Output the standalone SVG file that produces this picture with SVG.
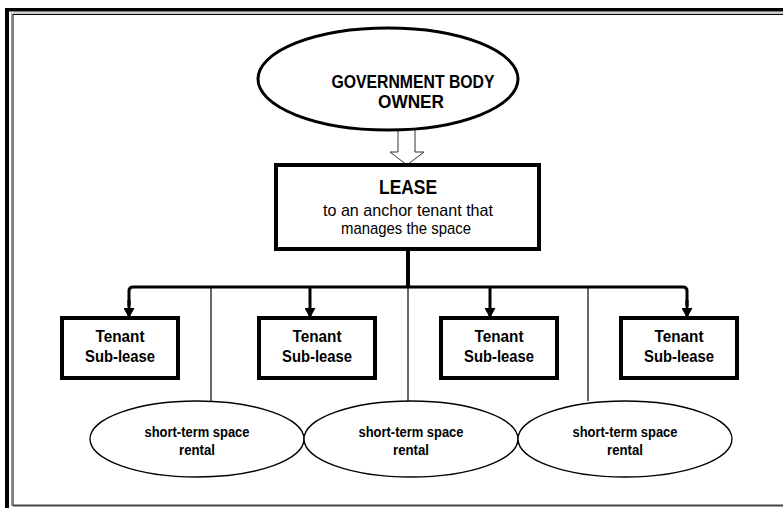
<svg xmlns="http://www.w3.org/2000/svg" width="783" height="508" viewBox="0 0 783 508">
<defs>
<style>
.t{font-family:"Liberation Sans",Arial,sans-serif;fill:#000;text-anchor:middle}
.b{font-weight:bold}
.box{fill:#fff;stroke:#000;stroke-width:4}
.ell{fill:#fff;stroke:#000;stroke-width:1.3}
.thin{stroke:#000;stroke-width:1.2;fill:none}
.conn{stroke:#000;stroke-width:3;fill:none}
</style>
<marker id="ah" markerWidth="10" markerHeight="11" refX="9" refY="5.5" orient="auto" markerUnits="userSpaceOnUse" viewBox="0 0 10 11">
<path d="M0,0 L10,5.5 L0,11 Z" fill="#000"/>
</marker>
</defs>
<rect width="783" height="508" fill="#fff"/>
<g id="frame">
<rect x="5" y="8" width="4" height="500" fill="#000"/>
<rect x="5" y="8" width="778" height="3.5" fill="#000"/>
<line x1="11.5" y1="12.5" x2="11.5" y2="506" stroke="#999" stroke-width="1"/>
<line x1="13" y1="13" x2="783" y2="13" stroke="#999" stroke-width="1"/>
<line x1="13" y1="14.5" x2="783" y2="14.5" stroke="#000" stroke-width="1"/>
<line x1="13" y1="14" x2="13" y2="506" stroke="#000" stroke-width="1"/>
<line x1="13" y1="505.5" x2="783" y2="505.5" stroke="#444" stroke-width="2"/>
</g>
<g id="connectors">
<path d="M398,130 L398,152 L390,152 L407,165 L424,152 L415,152 L415,130" fill="#fff" stroke="#333" stroke-width="1"/>
<line x1="408" y1="249" x2="408" y2="287" stroke="#000" stroke-width="4"/>
<path class="conn" d="M129,306 L129,291 Q129,287 133,287 L683,287 Q687,287 687,291 L687,306"/>
<line class="conn" x1="129" y1="300" x2="129" y2="317" marker-end="url(#ah)"/>
<line class="conn" x1="310" y1="287" x2="310" y2="317" marker-end="url(#ah)"/>
<line class="conn" x1="490" y1="287" x2="490" y2="317" marker-end="url(#ah)"/>
<line class="conn" x1="687" y1="300" x2="687" y2="317" marker-end="url(#ah)"/>
<line class="thin" x1="211" y1="288" x2="211" y2="401"/>
<line class="thin" x1="408" y1="288" x2="408" y2="401"/>
<line class="thin" x1="588" y1="288" x2="588" y2="401"/>
</g>
<g id="owner">
<ellipse cx="388" cy="79" rx="130" ry="51" fill="#fff" stroke="#000" stroke-width="3"/>
<text class="t b" x="413" y="88" font-size="18" textLength="163" lengthAdjust="spacingAndGlyphs">GOVERNMENT BODY</text>
<text class="t b" x="411" y="108" font-size="18" textLength="66" lengthAdjust="spacingAndGlyphs">OWNER</text>
</g>
<g id="lease">
<rect class="box" x="276" y="165" width="263" height="84"/>
<text class="t b" x="408" y="194" font-size="20" textLength="58" lengthAdjust="spacingAndGlyphs">LEASE</text>
<text class="t" x="408" y="216" font-size="17" textLength="170" lengthAdjust="spacingAndGlyphs">to an anchor tenant that</text>
<text class="t" x="406" y="234" font-size="17" textLength="130" lengthAdjust="spacingAndGlyphs">manages the space</text>
</g>
<g id="tenant1">
<rect class="box" x="62" y="318" width="116" height="60"/>
<text class="t b" x="120" y="342" font-size="16" textLength="49" lengthAdjust="spacingAndGlyphs">Tenant</text>
<text class="t b" x="120" y="362" font-size="16" textLength="70" lengthAdjust="spacingAndGlyphs">Sub-lease</text>
</g>
<g id="tenant2">
<rect class="box" x="259" y="318" width="116" height="60"/>
<text class="t b" x="317" y="342" font-size="16" textLength="49" lengthAdjust="spacingAndGlyphs">Tenant</text>
<text class="t b" x="317" y="362" font-size="16" textLength="70" lengthAdjust="spacingAndGlyphs">Sub-lease</text>
</g>
<g id="tenant3">
<rect class="box" x="441" y="318" width="116" height="60"/>
<text class="t b" x="499" y="342" font-size="16" textLength="49" lengthAdjust="spacingAndGlyphs">Tenant</text>
<text class="t b" x="499" y="362" font-size="16" textLength="70" lengthAdjust="spacingAndGlyphs">Sub-lease</text>
</g>
<g id="tenant4">
<rect class="box" x="621" y="318" width="116" height="60"/>
<text class="t b" x="679" y="342" font-size="16" textLength="49" lengthAdjust="spacingAndGlyphs">Tenant</text>
<text class="t b" x="679" y="362" font-size="16" textLength="70" lengthAdjust="spacingAndGlyphs">Sub-lease</text>
</g>
<g id="rental1">
<ellipse class="ell" cx="197" cy="439" rx="107" ry="38"/>
<text class="t b" x="197" y="437" font-size="14" textLength="105" lengthAdjust="spacingAndGlyphs">short-term space</text>
<text class="t b" x="197" y="455" font-size="14" textLength="36" lengthAdjust="spacingAndGlyphs">rental</text>
</g>
<g id="rental2">
<ellipse class="ell" cx="411" cy="439" rx="107" ry="38"/>
<text class="t b" x="411" y="437" font-size="14" textLength="105" lengthAdjust="spacingAndGlyphs">short-term space</text>
<text class="t b" x="411" y="455" font-size="14" textLength="36" lengthAdjust="spacingAndGlyphs">rental</text>
</g>
<g id="rental3">
<ellipse class="ell" cx="625" cy="439" rx="107" ry="38"/>
<text class="t b" x="625" y="437" font-size="14" textLength="105" lengthAdjust="spacingAndGlyphs">short-term space</text>
<text class="t b" x="625" y="455" font-size="14" textLength="36" lengthAdjust="spacingAndGlyphs">rental</text>
</g>
</svg>
